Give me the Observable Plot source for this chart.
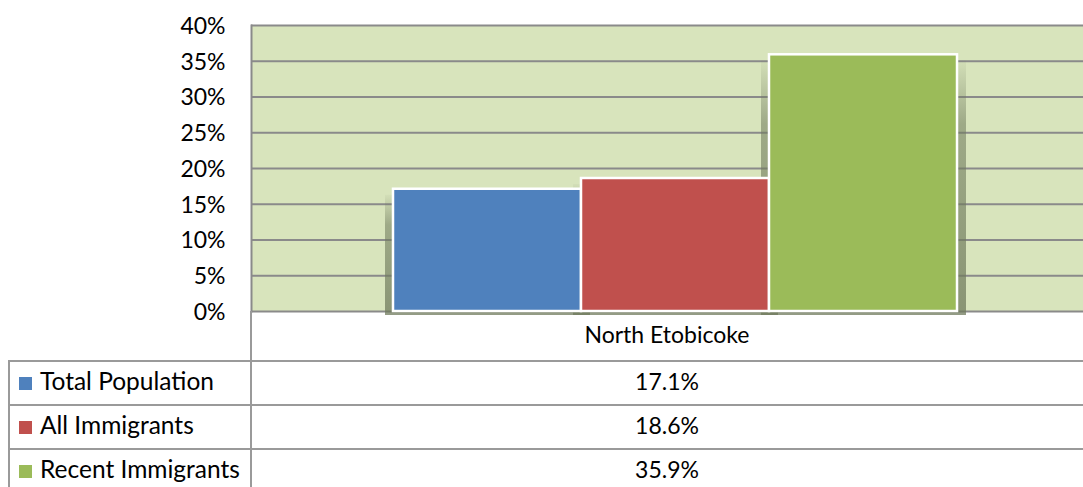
<!DOCTYPE html>
<html><head><meta charset="utf-8">
<script src="https://cdn.jsdelivr.net/npm/d3@7"></script>
<script src="https://cdn.jsdelivr.net/npm/@observablehq/plot@0.6"></script>
<style>
body{margin:0;background:#fff;}
#wrap{position:relative;width:1083px;height:487px;overflow:hidden;font-family:Lato,"Open Sans",sans-serif;color:#000}
#wrap svg{position:absolute;left:0;top:0;}
.hl{position:absolute;height:2px;background:#9a9a9a}
.vl{position:absolute;width:2px;background:#9a9a9a}
.cell{position:absolute;font-size:23px;line-height:44px;white-space:nowrap}
.leg{font-size:24.5px}
.sw{display:inline-block;width:13px;height:13px;margin-right:8px;vertical-align:0px}
</style></head><body><div id="wrap"></div>
<script>
const category = "North Etobicoke";
const series = ["Total Population", "All Immigrants", "Recent Immigrants"];
const values = [0.171, 0.186, 0.359];
const colors = ["#4f81bd", "#c0504d", "#9bbb59"];
const yTicks = [0, 0.05, 0.10, 0.15, 0.20, 0.25, 0.30, 0.35, 0.40];
const valueLabels = ["17.1%", "18.6%", "35.9%"];

const data = series.map((s, i) => ({series: s, value: values[i], category}));

const defs = () => {
  const g = d3.create("svg:defs");
  const lg = g.append("linearGradient").attr("id", "shadowGrad").attr("x1", 0).attr("x2", 0).attr("y1", 0).attr("y2", 1);
  lg.append("stop").attr("offset", "0%").attr("stop-color", "#6f7a5c").attr("stop-opacity", 0.05);
  lg.append("stop").attr("offset", "25%").attr("stop-color", "#6f7a5c").attr("stop-opacity", 0.55);
  lg.append("stop").attr("offset", "100%").attr("stop-color", "#6f7a5c").attr("stop-opacity", 0.75);
  return g.node();
};

const pct = d => Math.round(d * 100) + "%";

const chart = Plot.plot({
  width: 1083,
  height: 313,
  marginLeft: 251,
  marginRight: 0,
  marginTop: 25,
  marginBottom: 2,
  style: {fontFamily: "Lato, 'Open Sans', sans-serif", fontSize: "23px", color: "#000", background: "transparent", overflow: "visible"},
  x: {domain: series, range: [392, 957], padding: 0, axis: null},
  y: {domain: [0, 0.4], ticks: yTicks, tickFormat: pct, label: null},
  color: {domain: series, range: colors},
  marks: [
    defs,
    Plot.frame({fill: "#d8e4bc", stroke: null}),
    Plot.gridY(yTicks, {stroke: "#8a8a8a", strokeOpacity: 1, strokeWidth: 2}),
    Plot.frame({anchor: "left", stroke: "#8a8a8a", strokeWidth: 2}),
    Plot.barY(data, {x: "series", y: "value", fill: "url(#shadowGrad)", insetLeft: -8, insetRight: -9, insetBottom: -4, insetTop: 6}),
    Plot.barY(data, {x: "series", y: "value", fill: "series", stroke: "white", strokeWidth: 2.5}),
    Plot.axisY(yTicks, {tickSize: 0, tickPadding: 26, fontSize: 23, dy: 1, tickFormat: pct, label: null})
  ]
});

const wrap = document.getElementById("wrap");
wrap.appendChild(chart);

// data table below the chart
const add = (cls, css, html) => {
  const d = document.createElement("div");
  d.className = cls;
  Object.assign(d.style, css);
  if (html != null) d.innerHTML = html;
  wrap.appendChild(d);
  return d;
};
const rowTops = [360, 404, 448];
add("vl", {left: "250px", top: "311px", height: "176px"});
add("vl", {left: "8px", top: "360px", height: "127px"});
rowTops.forEach(t => add("hl", {left: "8px", top: t + "px", width: "1075px"}));
add("cell", {left: "251px", width: "832px", top: "312px", textAlign: "center"}, category);
series.forEach((s, i) => {
  const top = rowTops[i] - 1;
  const c = add("cell leg", {left: "19px", top: top + "px"});
  const sw = document.createElement("span");
  sw.className = "sw"; sw.style.background = colors[i];
  c.appendChild(sw);
  c.appendChild(document.createTextNode(s));
  add("cell", {left: "251px", width: "832px", top: top + "px", textAlign: "center"}, valueLabels[i]);
});
</script></body></html>
